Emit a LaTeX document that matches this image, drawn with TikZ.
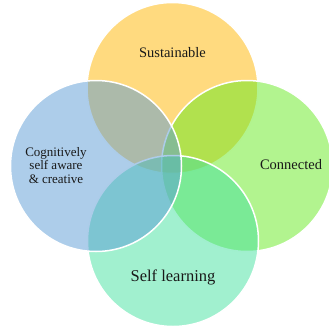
\documentclass[tikz,border=0pt]{standalone}
\usepackage{fontspec}
\setmainfont{Liberation Serif}
\definecolor{ctop}{RGB}{255,181,0}
\definecolor{cleft}{RGB}{91,155,213}
\definecolor{cright}{RGB}{101,233,31}
\definecolor{cbottom}{RGB}{67,225,159}
\tikzset{
  venn/.style={circle, minimum size=171pt, inner sep=0pt, draw=white, line width=1.5pt, fill opacity=0.5},
  lbl/.style={text=black!90, inner sep=0pt, align=center}
}
\begin{document}
\begin{tikzpicture}[x=1pt,y=-1pt]
\useasboundingbox (0,0) rectangle (329,327);
\node[venn, fill=ctop] (top) at (172.5,88) {};
\node[venn, fill=cright] (right) at (247,166) {};
\node[venn, fill=cbottom] (bottom) at (173,241) {};
\node[venn, fill=cleft] (left) at (96,166) {};
\node[lbl, font=\fontsize{14.5}{16}\selectfont] (tsust) at (172.5,53) {Sustainable};
\node[lbl, font=\fontsize{14.5}{16}\selectfont] (tconn) at (291,165) {Connected};
\node[lbl, font=\fontsize{16.5}{18}\selectfont] (tself) at (173,277) {Self learning};
\node[lbl, font=\fontsize{13}{13.5}\selectfont] (tcog) at (56,165.5) {Cognitively\\self aware\\\& creative};
\end{tikzpicture}
\end{document}
